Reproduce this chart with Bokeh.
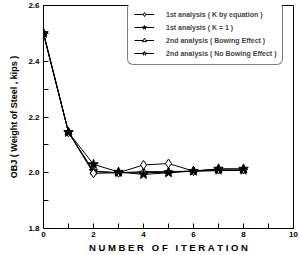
from bokeh.plotting import figure
from bokeh.models import Legend, LegendItem, Range1d, FixedTicker, NumeralTickFormatter
from bokeh.embed import file_html
from bokeh.resources import INLINE

iterations = [0, 1, 2, 3, 4, 5, 6, 7, 8]
k_by_equation = [2.500, 2.145, 1.998, 2.000, 2.028, 2.033, 2.006, 2.013, 2.013]
k_equal_one = [2.500, 2.145, 2.030, 2.003, 1.994, 2.000, 2.006, 2.014, 2.014]
bowing = [2.500, 2.145, 2.004, 2.000, 2.004, 2.004, 2.006, 2.008, 2.008]
no_bowing = [2.500, 2.145, 2.006, 2.000, 2.000, 2.002, 2.006, 2.008, 2.008]

series_labels = [
    "1st analysis ( K by equation )",
    "1st analysis ( K = 1 )",
    "2nd analysis ( Bowing Effect )",
    "2nd analysis ( No Bowing Effect )",
]

x_ticks = [0, 2, 4, 6, 8, 10]
y_ticks = [1.8, 2.0, 2.2, 2.4, 2.6]

FONT = "Liberation Sans"
NBSP = "\u00a0"


def spaced(text):
    # letter-spaced title; non-breaking spaces survive SVG whitespace collapsing
    words = text.split(" ")
    return (NBSP * 3).join(NBSP.join(w) for w in words)


p = figure(width=299, height=255, output_backend="svg", toolbar_location=None,
           x_range=Range1d(0, 10), y_range=Range1d(1.8, 2.6),
           min_border_left=43, min_border_right=6, min_border_top=5,
           min_border_bottom=24)

p.grid.visible = False
p.outline_line_color = "black"
p.outline_line_width = 1
p.background_fill_color = "white"
p.border_fill_color = "white"

p.xaxis.ticker = FixedTicker(ticks=x_ticks, minor_ticks=[1, 3, 5, 7, 9])
p.yaxis.ticker = FixedTicker(ticks=y_ticks, minor_ticks=[1.9, 2.1, 2.3, 2.5])
p.yaxis.formatter = NumeralTickFormatter(format="0.0")

for ax in (p.xaxis, p.yaxis):
    ax.major_tick_in = 5
    ax.major_tick_out = 0
    ax.minor_tick_in = 5
    ax.minor_tick_out = 0
    ax.minor_tick_line_color = "black"
    ax.axis_line_color = "black"
    ax.major_label_text_font = FONT
    ax.major_label_text_font_style = "bold"
    ax.major_label_text_font_size = "8px"
    ax.major_label_text_color = "black"
    ax.axis_label_text_font = FONT
    ax.axis_label_text_font_style = "bold"
    ax.axis_label_text_color = "black"

p.xaxis.major_label_standoff = 3
p.yaxis.major_label_standoff = 4
p.xaxis.axis_label = spaced("NUMBER OF ITERATION")
p.xaxis.axis_label_text_font_size = "9.5px"
p.xaxis.axis_label_standoff = 2
p.yaxis.axis_label = "OBJ ( Weight of Steel , kips )"
p.yaxis.axis_label_text_font_size = "9px"
p.yaxis.axis_label_standoff = 6

r4 = p.line(iterations, no_bowing, line_color="black", line_width=1)
m4 = p.scatter(iterations, no_bowing, marker="star", size=9,
               fill_color="white", line_color="black")
r3 = p.line(iterations, bowing, line_color="black", line_width=1)
m3 = p.scatter(iterations, bowing, marker="triangle", size=7,
               fill_color="white", line_color="black")
r1 = p.line(iterations, k_by_equation, line_color="black", line_width=1)
m1 = p.scatter(iterations, k_by_equation, marker="diamond", size=9,
               fill_color="white", line_color="black")
r2 = p.line(iterations, k_equal_one, line_color="black", line_width=1)
m2 = p.scatter(iterations, k_equal_one, marker="star", size=10,
               fill_color="black", line_color="black")

items = [
    LegendItem(label=series_labels[0], renderers=[r1, m1]),
    LegendItem(label=series_labels[1], renderers=[r2, m2]),
    LegendItem(label=series_labels[2], renderers=[r3, m3]),
    LegendItem(label=series_labels[3], renderers=[r4, m4]),
]
legend = Legend(items=items, location=(84, 163))
legend.label_text_font = FONT
legend.label_text_font_style = "bold"
legend.label_text_font_size = "7px"
legend.label_height = 10
legend.glyph_height = 10
legend.glyph_width = 20
legend.spacing = 3
legend.padding = 6
legend.margin = 0
legend.label_standoff = 12
legend.border_line_color = "black"
legend.border_line_width = 1
legend.background_fill_alpha = 1
if "border_radius" in Legend.properties():
    legend.border_radius = 6
p.add_layout(legend)

open("out.html", "w").write(file_html(p, INLINE))
